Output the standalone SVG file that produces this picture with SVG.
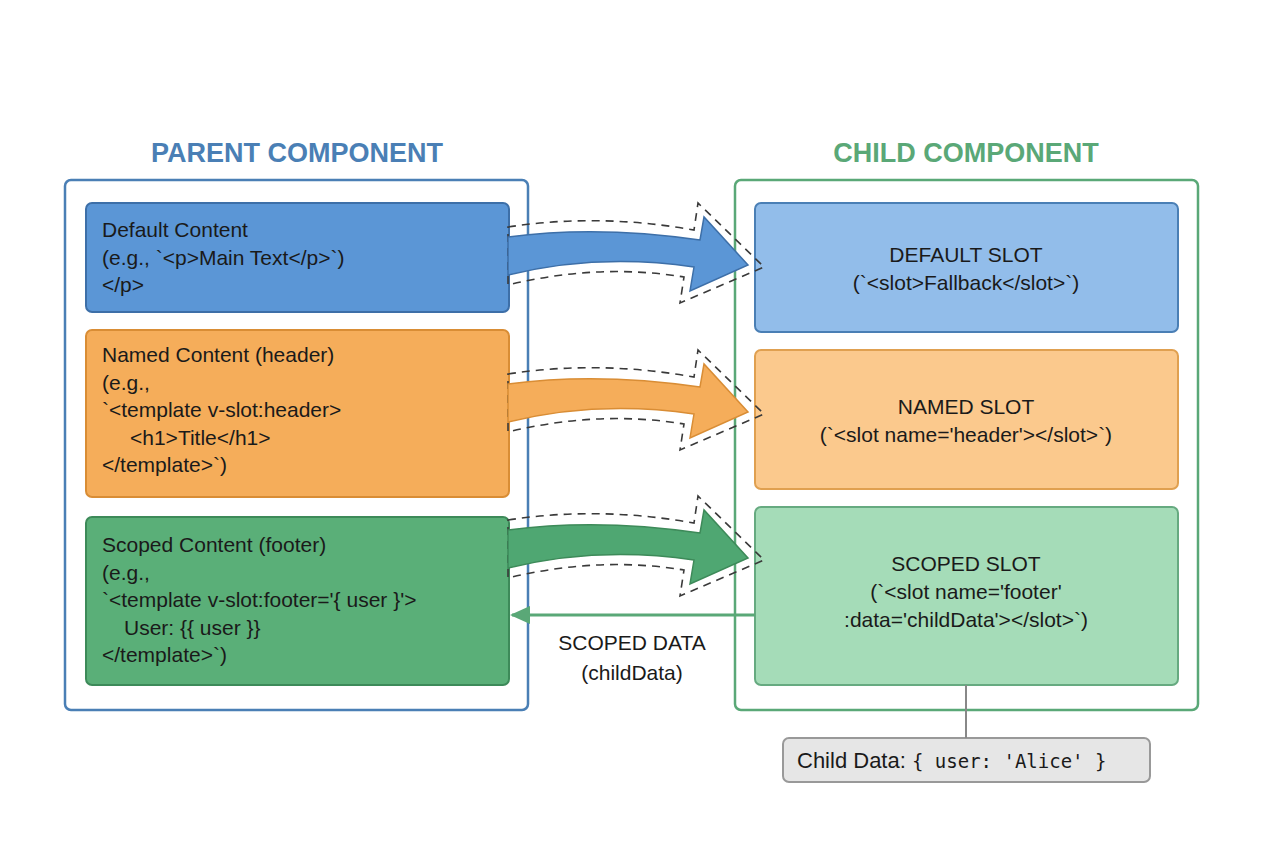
<svg xmlns="http://www.w3.org/2000/svg" width="1264" height="848" viewBox="0 0 1264 848">
<style>
text{font-family:"Liberation Sans",Arial,sans-serif;font-size:21px;fill:#1a1a1a}
.t{font-size:27px;font-weight:bold;text-anchor:middle}
.c{text-anchor:middle}
.dash{fill:none;stroke:#3a3a3a;stroke-width:1.6;stroke-dasharray:8 6}
</style>
<defs>
<marker id="ah" markerWidth="20" markerHeight="20" refX="18" refY="10" orient="auto" markerUnits="userSpaceOnUse" viewBox="0 0 20 20"><path d="M0,1 L20,10 L0,19 Z" fill="#5aa877"/></marker>
<path id="arr" d="M0,-18 Q90,-30 192,-15 L196,-38 L240,10 L182,36 L186,12 Q90,-2 0,20 Z"/>
<path id="arrd" d="M0,-28 Q90,-42 186,-25 L190,-52 L256,12 L172,48 L176,22 Q90,8 0,30 Z"/>
</defs>
<rect width="1264" height="848" fill="#fff"/>
<text class="t" x="297" y="162" style="fill:#4a7fb5">PARENT COMPONENT</text>
<text class="t" x="966" y="162" style="fill:#5aa877">CHILD COMPONENT</text>
<g id="parent"><rect x="65" y="180" width="463" height="530" rx="6" fill="none" stroke="#4a7fb5" stroke-width="2.5"/></g>
<g id="child"><rect x="735" y="180" width="463" height="530" rx="6" fill="none" stroke="#5aa877" stroke-width="2.5"/></g>
<g id="default-content"><rect x="86" y="203" width="423" height="109" rx="6" fill="#5b96d6" stroke="#3d6fa8" stroke-width="2"/>
<text x="102" y="237">Default Content</text><text x="102" y="265">(e.g., `&lt;p&gt;Main Text&lt;/p&gt;`)</text><text x="102" y="292">&lt;/p&gt;</text></g>
<g id="named-content"><rect x="86" y="330" width="423" height="167" rx="6" fill="#f5ad5a" stroke="#d98d35" stroke-width="2"/>
<text x="102" y="362">Named Content (header)</text><text x="102" y="390">(e.g.,</text><text x="102" y="417">`&lt;template v-slot:header&gt;</text><text x="130" y="445">&lt;h1&gt;Title&lt;/h1&gt;</text><text x="102" y="472">&lt;/template&gt;`)</text></g>
<g id="scoped-content"><rect x="86" y="517" width="423" height="168" rx="6" fill="#5aaf78" stroke="#3d8a59" stroke-width="2"/>
<text x="102" y="552">Scoped Content (footer)</text><text x="102" y="580">(e.g.,</text><text x="102" y="607">`&lt;template v-slot:footer='{ user }'&gt;</text><text x="124" y="635">User: {{ user }}</text><text x="102" y="662">&lt;/template&gt;`)</text></g>
<g id="default-slot"><rect x="755" y="203" width="423" height="129" rx="6" fill="#92bdea" stroke="#4a7fb5" stroke-width="2"/>
<text class="c" x="966" y="262">DEFAULT SLOT</text><text class="c" x="966" y="290">(`&lt;slot&gt;Fallback&lt;/slot&gt;`)</text></g>
<g id="named-slot"><rect x="755" y="350" width="423" height="139" rx="6" fill="#fbc98d" stroke="#e0a050" stroke-width="2"/>
<text class="c" x="966" y="414">NAMED SLOT</text><text class="c" x="966" y="442">(`&lt;slot name='header'&gt;&lt;/slot&gt;`)</text></g>
<g id="scoped-slot"><rect x="755" y="507" width="423" height="178" rx="6" fill="#a5dcb8" stroke="#66aa80" stroke-width="2"/>
<text class="c" x="966" y="571">SCOPED SLOT</text><text class="c" x="966" y="599">(`&lt;slot name='footer'</text><text class="c" x="966" y="627">:data='childData'&gt;&lt;/slot&gt;`)</text></g>
<g id="child-data"><rect x="783" y="738" width="367" height="44" rx="6" fill="#e6e6e6" stroke="#999" stroke-width="2"/>
<text x="797" y="768" style="font-size:22px">Child Data: <tspan style="font-family:'DejaVu Sans Mono',monospace;font-size:19px">{ user: 'Alice' }</tspan></text></g>
<g id="connectors">
<use href="#arrd" transform="translate(508,255)" class="dash"/>
<use href="#arr" transform="translate(508,255)" fill="#5b96d6" stroke="#3d6fa8" stroke-width="1.5"/>
<use href="#arrd" transform="translate(508,402)" class="dash"/>
<use href="#arr" transform="translate(508,402)" fill="#f5ad5a" stroke="#d98d35" stroke-width="1.5"/>
<use href="#arrd" transform="translate(508,548)" class="dash"/>
<use href="#arr" transform="translate(508,548)" fill="#4fa772" stroke="#3d8a59" stroke-width="1.5"/>
<line x1="755" y1="615" x2="512" y2="615" stroke="#5aa877" stroke-width="3" marker-end="url(#ah)"/>
<text class="c" x="632" y="650">SCOPED DATA</text><text class="c" x="632" y="680">(childData)</text>
<line x1="966" y1="685" x2="966" y2="738" stroke="#888" stroke-width="2"/>
</g>
</svg>
